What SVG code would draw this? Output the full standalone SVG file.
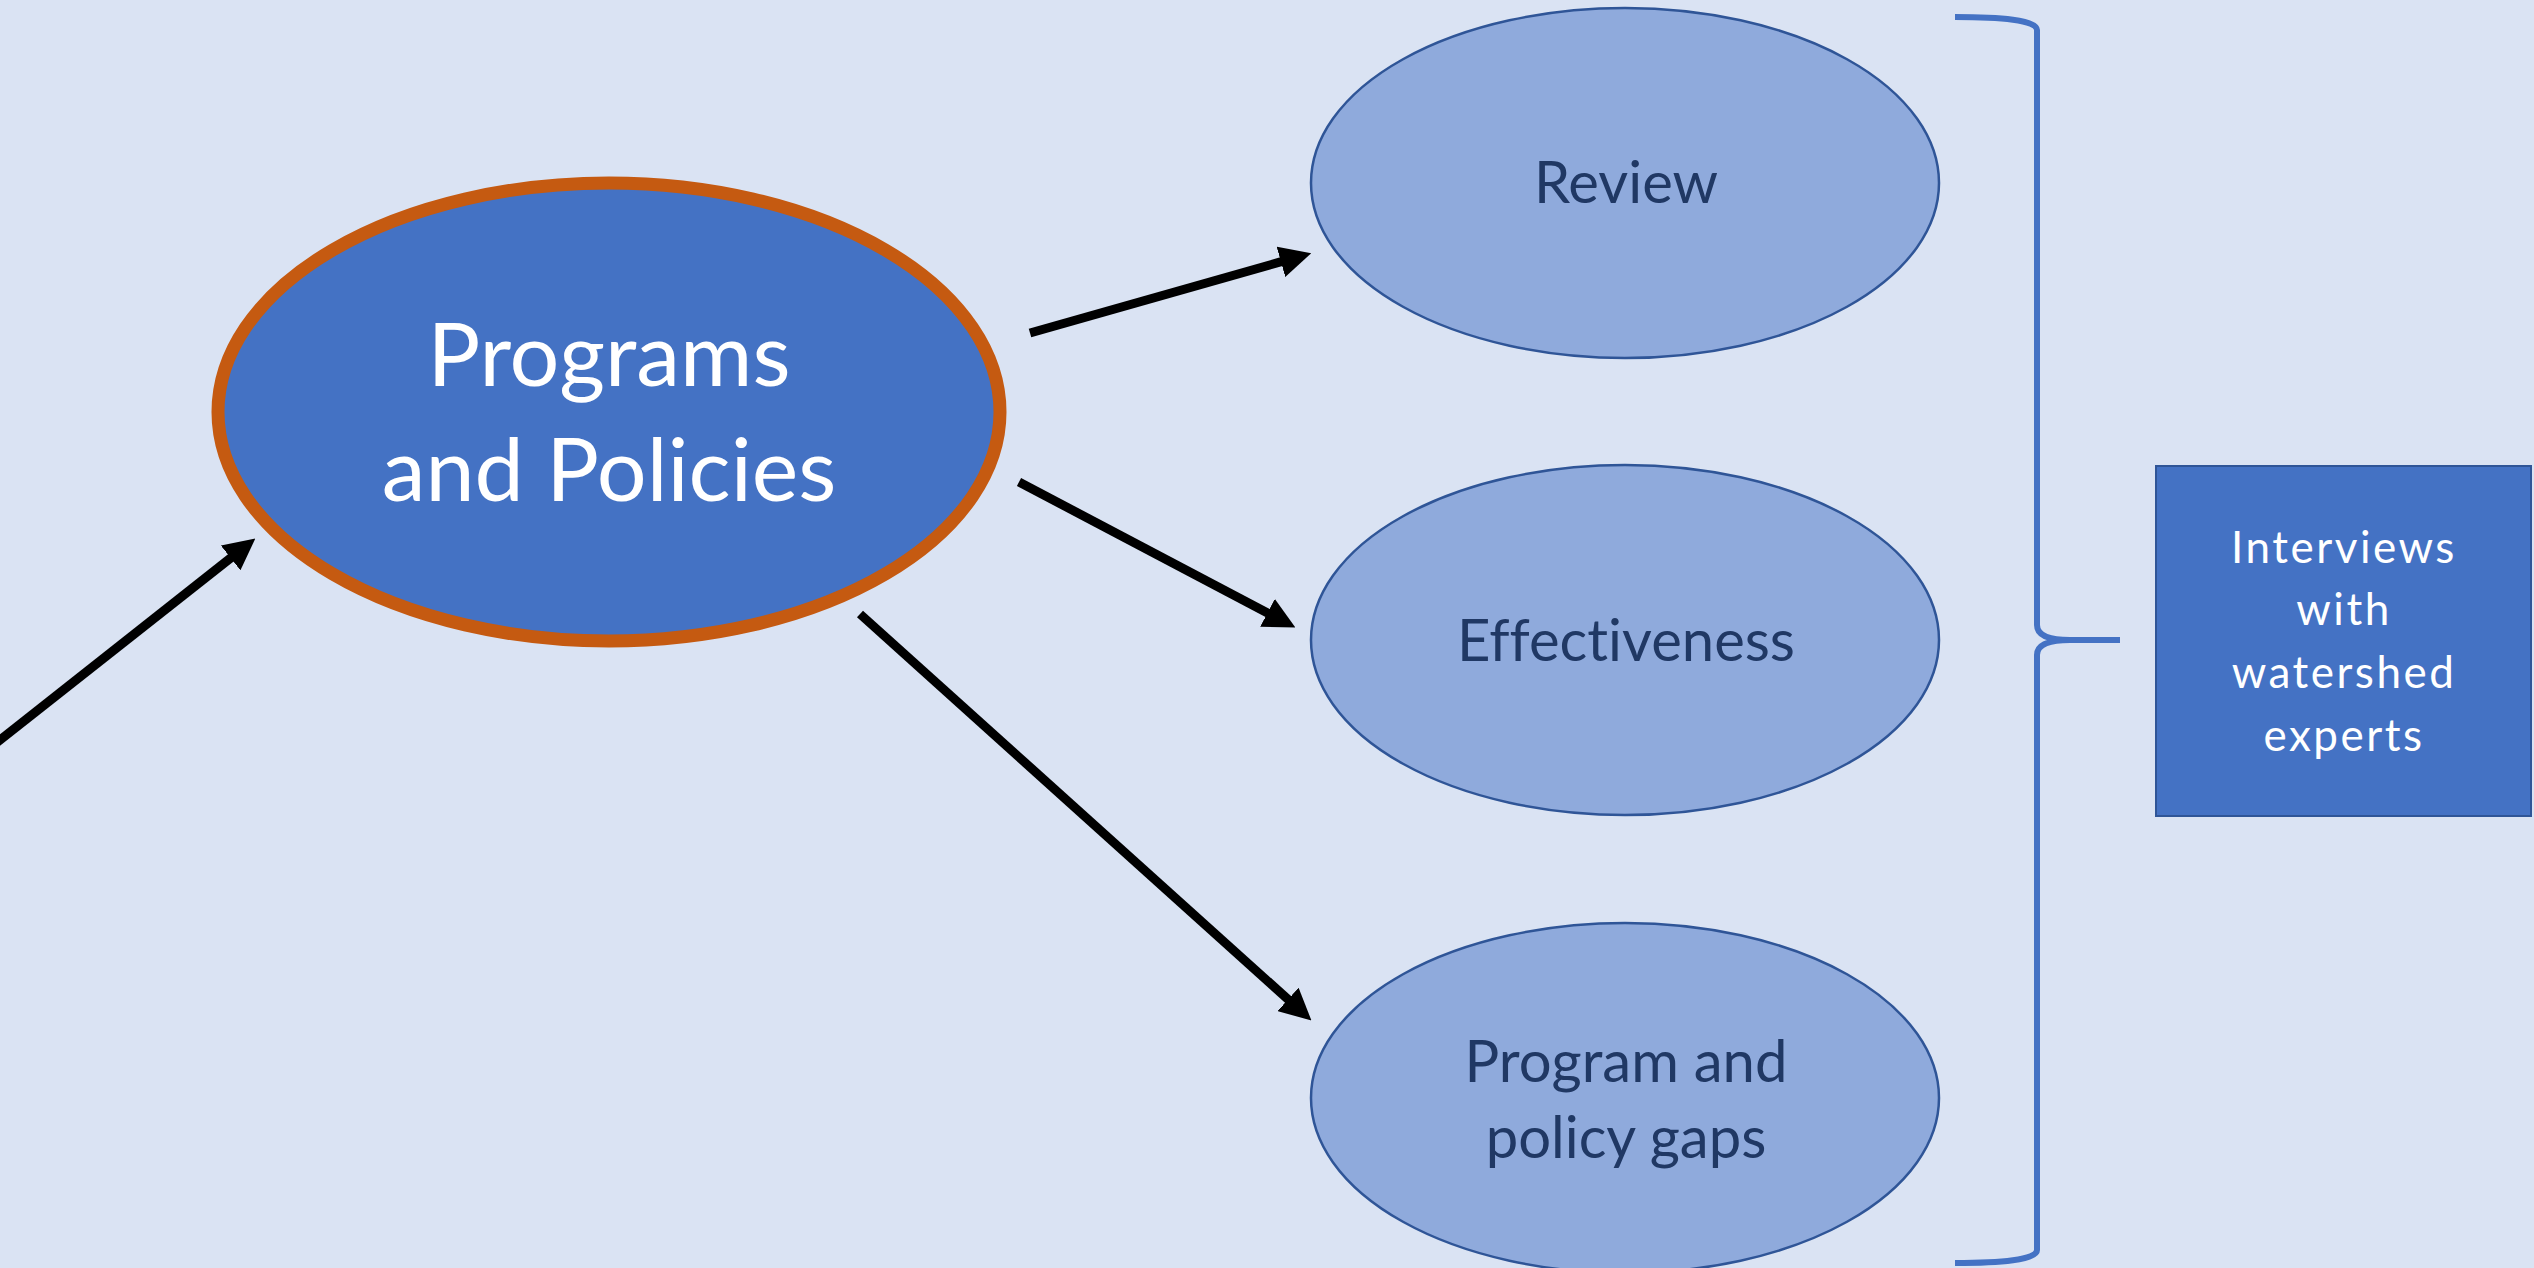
<svg xmlns="http://www.w3.org/2000/svg" width="2534" height="1268" viewBox="0 0 2534 1268">
<style>
.t{font-family:Lato,"Open Sans","Liberation Sans",sans-serif;text-anchor:middle;font-variant-ligatures:none;font-feature-settings:"liga" 0,"dlig" 0}
.main{fill:#FFFFFF;font-size:88px}
.sub{fill:#203864;font-size:58px}
.box{fill:#FFFFFF;font-size:44px;letter-spacing:2.5px}
.oval{fill:#8FAADC;stroke:#2F5597;stroke-width:2.5}
.arr{stroke:#000000;stroke-width:9;fill:none;marker-end:url(#ah)}
</style>
<defs>
<marker id="ah" viewBox="0 0 3.5 3.5" refX="0.25" refY="1.75" markerWidth="3.5" markerHeight="3.5" orient="auto">
<path d="M0,0 L3.5,1.75 L0,3.5 Z" fill="#000000"/>
</marker>
</defs>
<rect x="0" y="0" width="2534" height="1268" fill="#DAE3F3"/>
<g id="connectors">
<line class="arr" x1="-5" y1="744" x2="232.4" y2="556.6"/>
<line class="arr" x1="1030" y1="333" x2="1283.1" y2="261.2"/>
<line class="arr" x1="1019" y1="482" x2="1269.5" y2="613.9"/>
<line class="arr" x1="860" y1="614" x2="1289.7" y2="1000.9"/>
</g>
<g id="programs">
<ellipse cx="609" cy="412" rx="391" ry="229" fill="#4472C4" stroke="#C55A11" stroke-width="13"/>
<text class="t main" x="609" y="386">Programs</text>
<text class="t main" x="609" y="501">and Policies</text>
</g>
<g id="review">
<ellipse class="oval" cx="1625" cy="183" rx="314" ry="175"/>
<text class="t sub" x="1626" y="203">Review</text>
</g>
<g id="effectiveness">
<ellipse class="oval" cx="1625" cy="640" rx="314" ry="175"/>
<text class="t sub" x="1626" y="661">Effectiveness</text>
</g>
<g id="gaps">
<ellipse class="oval" cx="1625" cy="1098" rx="314" ry="175"/>
<text class="t sub" x="1626" y="1082">Program and</text>
<text class="t sub" x="1626" y="1158">policy gaps</text>
</g>
<g id="brace">
<path d="M1955,17 C2000,17 2037,20 2037,30 L2037,625 C2037,636 2050,640 2070,640 L2120,640 M2070,640 C2050,640 2037,644 2037,655 L2037,1250 C2037,1260 2000,1263 1955,1263" fill="none" stroke="#4472C4" stroke-width="6"/>
</g>
<g id="interviews">
<rect x="2156" y="466" width="375" height="350" fill="#4472C4" stroke="#2F5597" stroke-width="2"/>
<text class="t box" x="2344" y="563">Interviews</text>
<text class="t box" x="2344" y="625">with</text>
<text class="t box" x="2344" y="688">watershed</text>
<text class="t box" x="2344" y="751">experts</text>
</g>
</svg>
